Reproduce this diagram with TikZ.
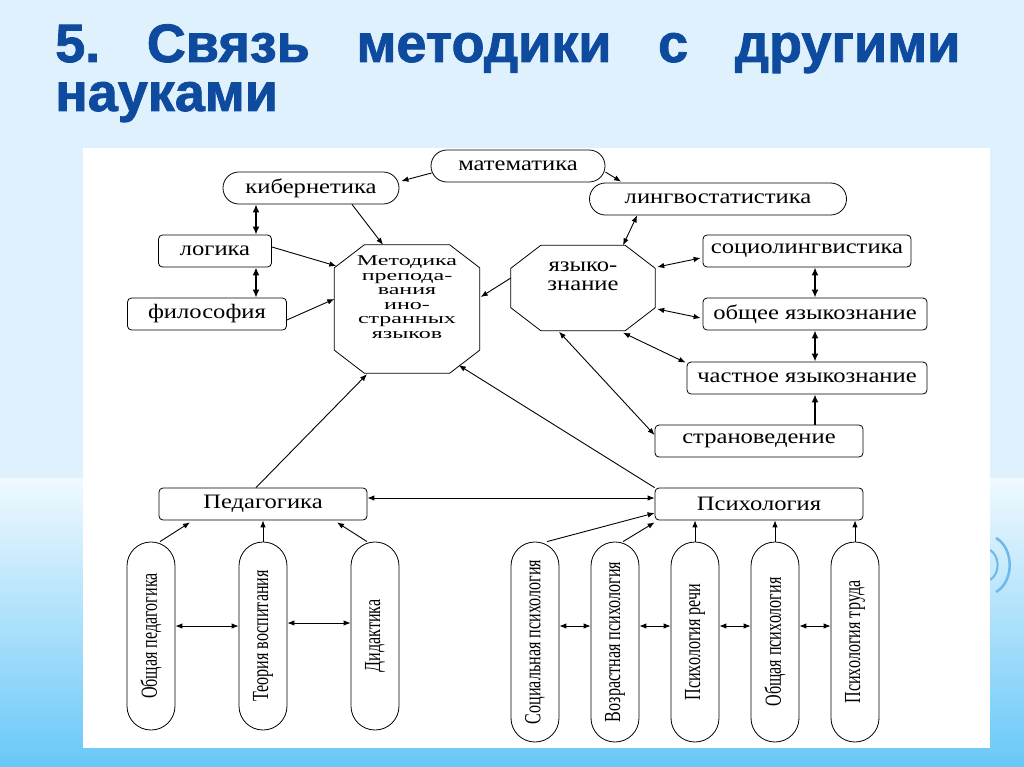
\documentclass[tikz,border=0pt]{standalone}
\usepackage{fontspec}
\setmainfont{Liberation Serif}
\newfontfamily\titlefont[BoldFeatures={FakeBold=1.5}]{Liberation Sans}
\newfontfamily\boxfont[FakeStretch=1.2]{Liberation Serif}
\newfontfamily\octfont[FakeStretch=1.6]{Liberation Serif}
\newfontfamily\pillfont[FakeStretch=0.7]{Liberation Serif}
\usetikzlibrary{arrows.meta,calc,positioning}

\definecolor{bgtop}{RGB}{222,241,252}
\definecolor{bglow}{RGB}{240,249,254}
\definecolor{bgblue}{RGB}{104,200,248}
\definecolor{titleblue}{RGB}{14,74,158}
\definecolor{swirl}{RGB}{110,185,235}

% octagon round a named node
\newcommand\octframe[1]{\draw[line width=0.8pt]
  ($(#1.north west)+(30,0)$) -- ($(#1.north east)+(-30,0)$) --
  ($(#1.north east)+(0,23)$) -- ($(#1.south east)+(0,-23)$) --
  ($(#1.south east)+(-30,0)$) -- ($(#1.south west)+(30,0)$) --
  ($(#1.south west)+(0,-23)$) -- ($(#1.north west)+(0,23)$) -- cycle;}

\begin{document}
\begin{tikzpicture}[x=1pt,y=-1pt,node distance=80pt,on grid,
  every node/.style={font=\boxfont\fontsize{20.5}{19}\selectfont},
  oval/.style={draw,line width=0.8pt,rounded corners=15.9pt,minimum height=32pt,inner sep=0pt},
  box/.style={draw,line width=0.8pt,rounded corners=4pt,minimum height=32pt,inner sep=0pt},
  oct/.style={inner sep=0pt,align=center},
  pill/.style={draw,line width=0.8pt,rounded corners=23.9pt,minimum width=48pt,inner sep=0pt,
    font=\pillfont\fontsize{23}{23}\selectfont},
  con/.style={line width=0.9pt,-{Latex[length=7pt,width=5.5pt]}},
  dcon/.style={line width=0.9pt,{Latex[length=7pt,width=5.5pt]}-{Latex[length=7pt,width=5.5pt]}},
  hcon/.style={line width=1.8pt,{Latex[length=8pt,width=7pt]}-{Latex[length=8pt,width=7pt]}},
  hup/.style={line width=1.6pt,-{Latex[length=8pt,width=7pt]}},
  headline/.style={anchor=base west,inner sep=0pt,text=titleblue,
    font=\titlefont\bfseries\fontsize{54}{60}\selectfont}]
\useasboundingbox (0,0) rectangle (1024,767);
% background of the slide
\fill[bgtop] (0,0) rectangle (1024,767);
\shade[top color=bglow,bottom color=bgblue] (0,478) rectangle (1024,767);
\draw[swirl,line width=2.5pt] (996,538) to[bend left=60] (996,592);
\draw[swirl,line width=2pt] (990,550) to[bend left=60] (990,580);
\fill[white] (83,148) rectangle (990,748);

% title
\node[headline] (t_1) at (55,62) {\makebox[905pt]{5.\hfill Связь\hfill методики\hfill с\hfill другими}};
\node[headline] (t_2) at (55,111) {науками};

% upper part
\node[oval,minimum width=174pt] (mat) at (518,166) {математика};
\node[oval,minimum width=176pt] (kib) at (311,188) {кибернетика};
\node[oval,minimum width=257pt] (ling) at (718,199) {лингвостатистика};
\node[box,minimum width=113pt] (log) at (215,251) {логика};
\node[box,minimum width=159pt] (fil) at (207,314) {философия};
\node[oct,minimum width=145pt,minimum height=128pt,
  font=\octfont\fontsize{15}{14.5}\selectfont] (met) at (407,309)
  {Методика\\препода-\\вания\\ино-\\странных\\языков\\[9pt]\mbox{}};
\node[oct,minimum width=144pt,minimum height=85pt] (yaz) at (583,288) {языко-\\знание\\[4pt]\mbox{}};
\octframe{met}
\octframe{yaz}
\node[box,minimum width=208pt] (soc) at (807,251) {социолингвистика};
\node[box,minimum width=224pt] (obs) at (815,314) {общее языкознание};
\node[box,minimum width=240pt] (cha) at (807,378) {частное языкознание};
\node[box,minimum width=208pt] (str) at (759,441) {страноведение};

% lower part
\node[box,minimum width=208pt] (ped) at (263,504) {Педагогика};
\node[box,minimum width=208pt] (psy) at (759,504) {Психология};
\node[pill,minimum height=188pt] (og) at (151,636) {\rotatebox{90}{Общая педагогика}};
\node[pill,minimum height=188pt] (tv) [right=112pt of og] {\rotatebox{90}{Теория воспитания}};
\node[pill,minimum height=188pt] (did) [right=112pt of tv] {\rotatebox{90}{Дидактика}};
\node[pill,minimum height=200pt] (sp) at (535,642) {\rotatebox{90}{Социальная психология}};
\node[pill,minimum height=200pt] (vp) [right=of sp] {\rotatebox{90}{Возрастная психология}};
\node[pill,minimum height=200pt] (pr) [right=of vp] {\rotatebox{90}{Психология речи}};
\node[pill,minimum height=200pt] (op) [right=of pr] {\rotatebox{90}{Общая психология}};
\node[pill,minimum height=200pt] (pt) [right=of op] {\rotatebox{90}{Психология труда}};

% connections
\draw[con] ($(mat.west)+(1,7)$) -- ($(kib.east)+(2,-7)$);
\draw[con] ($(mat.east)+(0,6)$) -- ($(ling.north west)+(32,-1)$);
\draw[hcon] ($(kib.south)+(-55,0)$) -- ($(log.north)+(41,0)$);
\draw[hcon] ($(log.south)+(41,0)$) -- ($(fil.north)+(49,0)$);
\draw[con] ($(kib.south)+(41,0)$) -- ($(met.north)+(-24,0)$);
\draw[con] ($(log.east)+(0,-4)$) -- ($(met.west)+(2,-43)$);
\draw[con] ($(fil.east)+(0,6)$) -- ($(met.west)+(0,-10)$);
\draw[con] ($(yaz.west)+(0,-10)$) -- ($(met.east)+(1,-12)$);
\draw[dcon] ($(ling.south west)+(48,0)$) -- ($(yaz.north)+(40,0)$);
\draw[dcon] ($(yaz.east)+(2,-21)$) -- ($(soc.west)+(-2,7)$);
\draw[dcon] ($(yaz.east)+(2,21)$) -- ($(obs.west)+(-2,4)$);
\draw[hcon] ($(soc.south)+(8,0)$) -- (obs.north);
\draw[hcon] (obs.south) -- ($(cha.north)+(8,0)$);
\draw[hup] ($(str.north)+(56,0)$) -- ($(cha.south)+(8,0)$);
\draw[dcon] ($(yaz.south)+(40,2)$) -- ($(cha.north west)+(-1,1)$);
\draw[dcon] ($(yaz.south)+(-24,1)$) -- ($(str.west)+(0,-6)$);
\draw[con] (psy.north west) -- ($(met.south east)+(-21,-8)$);
\draw[con] ($(ped.north)+(-7,0)$) -- ($(met.south)+(-40,1)$);
\draw[dcon] ($(psy.west)+(0,-6)$) -- ($(ped.east)+(0,-6)$);
\draw[con] ($(og.north)+(9,0)$) -- ($(ped.south)+(-73,2)$);
\draw[con] (tv.north) -- (ped.south);
\draw[con] ($(did.north)+(-8,0)$) -- ($(ped.south)+(74,2)$);
\draw[dcon] ($(og.east)+(0,-10)$) -- ($(tv.west)+(0,-10)$);
\draw[dcon] ($(tv.east)+(0,-13)$) -- ($(did.west)+(0,-13)$);
\draw[con] ($(sp.north)+(12,0)$) -- ($(psy.west)+(0,9)$);
\draw[con] ($(vp.north)+(8,0)$) -- ($(psy.south west)+(0,2)$);
\draw[con] (pr.north) -- ($(psy.south)+(-64,0)$);
\draw[con] (op.north) -- ($(psy.south)+(16,0)$);
\draw[con] (pt.north) -- ($(psy.south)+(96,0)$);
\foreach \a/\b in {sp/vp,vp/pr,pr/op,op/pt}
  \draw[dcon] ($(\a.east)+(0,-16)$) -- ($(\b.west)+(0,-16)$);
\end{tikzpicture}
\end{document}
